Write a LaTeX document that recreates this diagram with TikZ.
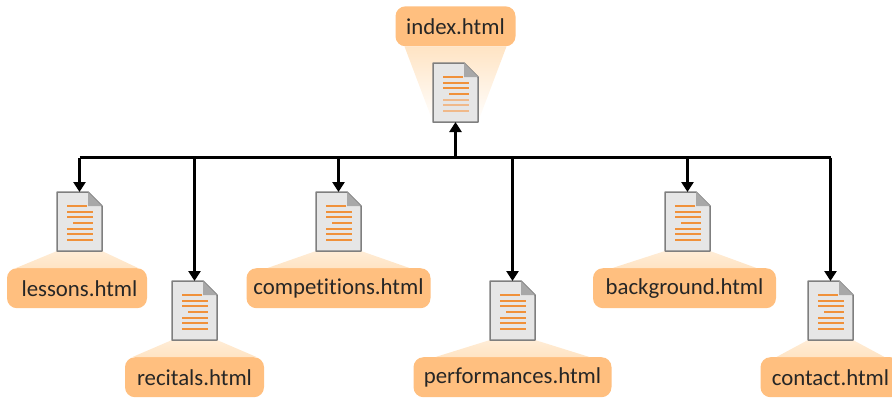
\documentclass[tikz,border=0pt]{standalone}
\usepackage{fontspec}
\setmainfont{Carlito}[Ligatures={NoCommon}]
\usetikzlibrary{arrows.meta, positioning}

\definecolor{labelorange}{HTML}{FFBF7F}
\definecolor{fanorange}{HTML}{FFE4C4}
\definecolor{pagegray}{HTML}{E6E6E6}
\definecolor{edgegray}{HTML}{7F7F7F}
\definecolor{foldgray}{HTML}{A8A8A8}
\definecolor{lineorange}{HTML}{F0913A}
\definecolor{paleorange}{HTML}{F0B98A}

\tikzset{
	file/.style={minimum width=45pt, minimum height=59pt, inner sep=0pt, outer sep=0pt},
	filename/.style={fill=labelorange, rounded corners=10pt, minimum height=40pt, inner sep=0pt,
		text=black!85, font=\fontsize{22.8}{25}\selectfont},
	wire/.style={line width=3pt, black},
	link/.style={wire, -{Triangle[length=10pt, width=12pt]}}
}

% page icon, drawn into an empty node
\newcommand{\fileicon}[2][lineorange]{
	\begin{scope}[shift={(#2.north west)}]
		\draw[edgegray, fill=pagegray, line width=1.5pt, line join=round]
			(0,0) -- (31,0) -- (45,14) -- (45,59) -- (0,59) -- cycle;
		\fill[foldgray] (31,0) -- (45,14) -- (31,14) -- cycle;
		\draw[lineorange, line width=1.5pt] (10,14) -- (30,14);
		\draw[lineorange, line width=1.5pt] (10,20) -- (36,20);
		\draw[lineorange, line width=1.5pt] (10,25) -- (36,25);
		\draw[lineorange, line width=1.5pt] (16,31) -- (36,31);
		\draw[#1, line width=1.5pt] (10,37) -- (36,37);
		\draw[#1, line width=1.5pt] (10,42) -- (36,42);
		\draw[#1, line width=1.5pt] (10,48) -- (36,48);
	\end{scope}
}
% pale fan between icon and its label
\newcommand{\filefan}[2]{
	\shade[top color=fanorange!70!white, bottom color=fanorange]
		(#1.south west) -- (#1.south east) -- ([xshift=#2pt]#1-name.north) -- ([xshift=-#2pt]#1-name.north) -- cycle;
}

\begin{document}
\begin{tikzpicture}[x=1pt, y=-1pt, node distance=17pt]
	\useasboundingbox (0,0) rectangle (892,400);

	\node[file] (index)        at (455.5,92.5)  {};
	\node[file] (lessons)      at (79.5,221.5)  {};
	\node[file] (recitals)     at (194.5,310.5) {};
	\node[file] (competitions) at (338.5,221.5) {};
	\node[file] (performances) at (512.5,310.5) {};
	\node[file] (background)   at (687.5,221.5) {};
	\node[file] (contact)      at (830.5,310.5) {};

	\node[filename, minimum width=120pt, above=16.5pt of index]               (index-name)        {index.html};
	\node[filename, minimum width=140pt, below=of lessons, xshift=-2.5pt]     (lessons-name)      {\hspace*{5pt}lessons.html};
	\node[filename, minimum width=139pt, below=of recitals]                   (recitals-name)     {recitals.html};
	\node[filename, minimum width=184pt, below=of competitions]               (competitions-name) {competitions.html};
	\node[filename, minimum width=198pt, below=of performances]               (performances-name) {performances.html};
	\node[filename, minimum width=183pt, below=of background, xshift=-3pt]    (background-name)   {background.html};
	\node[filename, minimum width=140pt, below=of contact]                    (contact-name)      {contact.html};

	\shade[top color=fanorange, bottom color=white]
		([xshift=-51pt]index-name.south) -- ([xshift=51pt]index-name.south) -- (index.south east) -- (index.south west) -- cycle;
	\filefan{lessons}{61}
	\filefan{recitals}{62}
	\filefan{competitions}{71}
	\filefan{performances}{77}
	\filefan{background}{72}
	\filefan{contact}{54}

	\fileicon[paleorange]{index}
	\fileicon{lessons}
	\fileicon{recitals}
	\fileicon{competitions}
	\fileicon{performances}
	\fileicon{background}
	\fileicon{contact}

	\coordinate (trunk) at (455,157.5);
	\draw[wire] (trunk -| lessons) -- (trunk -| contact);
	\draw[link] (trunk -| index) -- (index);
	\draw[link] (trunk -| lessons) -- (lessons);
	\draw[link] (trunk -| recitals) -- (recitals);
	\draw[link] (trunk -| competitions) -- (competitions);
	\draw[link] (trunk -| performances) -- (performances);
	\draw[link] (trunk -| background) -- (background);
	\draw[link] (trunk -| contact) -- (contact);
\end{tikzpicture}
\end{document}
